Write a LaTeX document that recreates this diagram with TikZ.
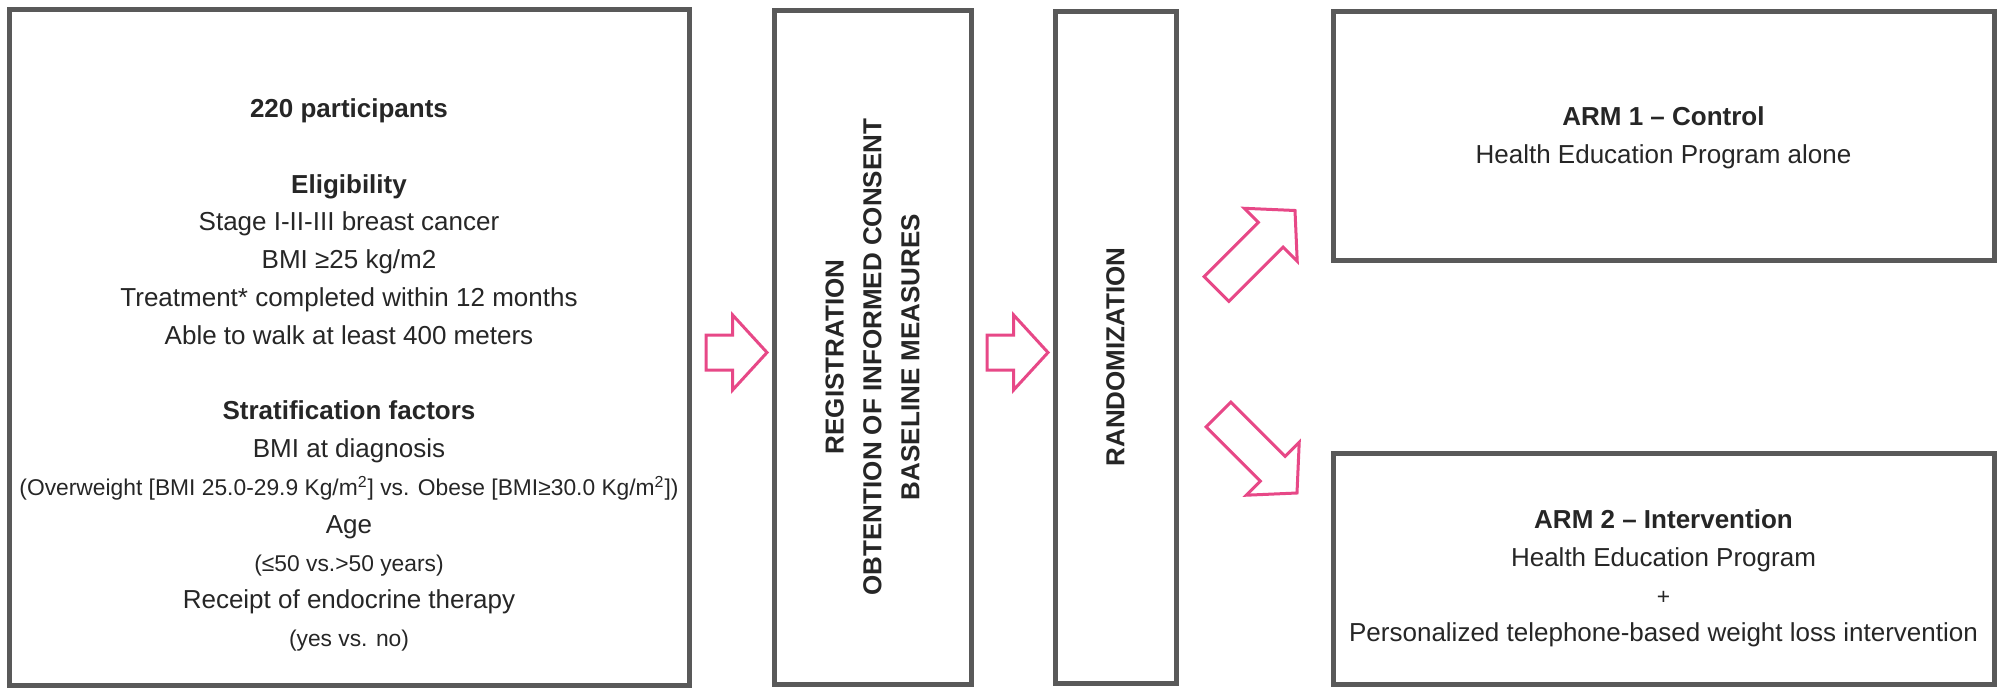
\documentclass[tikz,border=0pt]{standalone}
\usepackage{fontspec}
\setmainfont{Liberation Sans}
\usepackage{tikz}
\usetikzlibrary{shapes.arrows, positioning}

\definecolor{framegray}{RGB}{89,89,89}
\definecolor{arrowpink}{RGB}{231,72,135}
\definecolor{textgray}{RGB}{38,38,38}

\newcommand{\txtmain}{\fontsize{13}{18.9}\selectfont}
\newcommand{\txtsmall}{\fontsize{11.4}{18.9}\selectfont}

\begin{document}
\begin{tikzpicture}[node distance=42.5pt, auto]
        % Styles
        \tikzstyle{block} = [rectangle, draw=framegray, line width=2.5pt, fill=white, outer sep=0pt, inner sep=0pt]
        \tikzstyle{info} = [text=textgray, align=center, font=\txtmain]
        \tikzstyle{vinfo} = [info, rotate=90, font=\txtmain\bfseries]
        \tikzstyle{fatarrow} = [single arrow, draw=arrowpink, line width=1.5pt, fill=white, inner xsep=0pt, inner ysep=8pt, outer sep=0pt, minimum width=36pt, single arrow head extend=10pt, single arrow tip angle=95, minimum height=30.5pt]

        \useasboundingbox (0,0) rectangle (1001pt,-345pt);

        % Nodes
        \node [block, minimum width=340pt, minimum height=337.5pt] (input) at (174.5pt,-173.75pt) {};
        \node [block, minimum width=98.5pt, minimum height=336.5pt, right=of input] (reg) {};
        \node [block, minimum width=60.5pt, minimum height=336pt, right=42pt of reg] (rand) {};
        \node [block, minimum width=330.5pt, minimum height=124.5pt, right=78.5pt of rand.north east, anchor=north west] (arm1) {};
        \node [block, minimum width=330.5pt, minimum height=115.5pt, below=96.25pt of arm1] (arm2) {};

        % Texts
        \node [info] (inputtext) at ([yshift=-13.75pt]input.center) {\textbf{220 participants}\\[18.9pt]
            \textbf{Eligibility}\\
            Stage I-II-III breast cancer\\
            BMI ≥25 kg/m2\\
            Treatment* completed within 12 months\\
            Able to walk at least 400 meters\\[18.9pt]
            \textbf{Stratification factors}\\
            BMI at diagnosis\\
            {\txtsmall (Overweight [BMI 25.0-29.9 Kg/m\textsuperscript{2}] vs. Obese [BMI≥30.0 Kg/m\textsuperscript{2}])}\\
            Age\\
            {\txtsmall (≤50 vs.>50 years)}\\
            Receipt of endocrine therapy\\
            {\txtsmall (yes vs. no)}};
        \node [vinfo] (regtext) at ([yshift=-4.75pt]reg.center) {REGISTRATION\\OBTENTION OF INFORMED CONSENT\\BASELINE MEASURES};
        \node [vinfo] (randtext) at ([yshift=-4.75pt]rand.center) {RANDOMIZATION};
        \node [info] (arm1text) at ([yshift=-1pt]arm1.center) {\textbf{ARM 1 – Control}\\Health Education Program alone};
        \node [info] (arm2text) at ([yshift=-5pt]arm2.center) {\textbf{ARM 2 – Intervention}\\Health Education Program\\{\txtsmall +}\\Personalized telephone-based weight loss intervention};

        % Arrows
        \node [fatarrow, anchor=tail] (toreg) at ([xshift=8.5pt, yshift=-2.5pt]input.east) {};
        \node [fatarrow, anchor=tail] (torand) at ([xshift=8pt, yshift=-2.5pt]reg.east) {};
        \node [fatarrow, minimum height=55.5pt, rotate=45, anchor=tip] (toarm1) at ([xshift=-19pt, yshift=25pt]arm1.south west) {};
        \node [fatarrow, minimum height=55.5pt, rotate=-45, anchor=tip] (toarm2) at ([xshift=-18pt, yshift=-20pt]arm2.north west) {};
    \end{tikzpicture}
\end{document}
